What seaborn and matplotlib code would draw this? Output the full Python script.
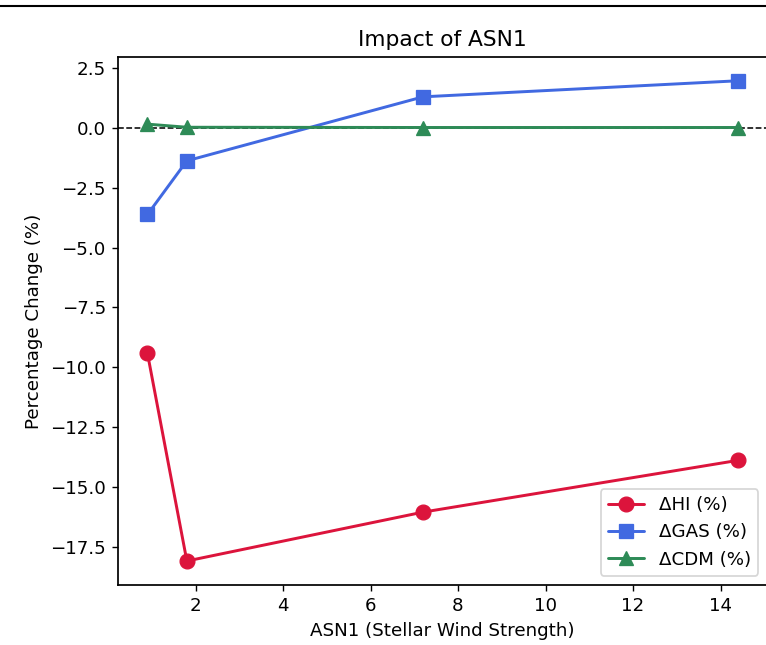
import matplotlib
matplotlib.use("Agg")
import matplotlib.pyplot as plt
import seaborn as sns
import pandas as pd
from matplotlib.lines import Line2D

asn1 = [0.9, 1.8, 7.2, 14.4]
d_hi = [-9.42, -18.08, -16.04, -13.88]
d_gas = [-3.62, -1.38, 1.29, 1.96]
d_cdm = [0.15, 0.02, 0.01, 0.01]

series = [
    ("ΔHI (%)", d_hi, "#DC143C", "o"),
    ("ΔGAS (%)", d_gas, "#4169E1", "s"),
    ("ΔCDM (%)", d_cdm, "#2E8B57", "^"),
]

sns.set_style("ticks")
plt.rcParams['font.family'] = ['DejaVu Sans']
plt.rcParams['text.color'] = 'black'
plt.rcParams['axes.labelcolor'] = 'black'
plt.rcParams['xtick.color'] = 'black'
plt.rcParams['ytick.color'] = 'black'

fig = plt.figure(figsize=(766 / 125, 645 / 125), dpi=125)
ax = fig.add_axes([0.154, 0.093, 0.848, 0.819])

for label, vals, color, marker in series:
    df = pd.DataFrame({"x": asn1, "y": vals})
    sns.lineplot(data=df, x="x", y="y", ax=ax, color=color, marker=marker,
                 markersize=8.5, markeredgecolor=color, linewidth=1.7, label=label)

ax.axhline(0, color="black", linestyle="--", linewidth=0.9, zorder=1)

ax.set_title("Impact of ASN1", fontsize=12.5)
ax.set_xlabel("ASN1 (Stellar Wind Strength)", fontsize=10.5)
ax.set_ylabel("Percentage Change (%)", fontsize=10.5)
ax.set_xticks([2, 4, 6, 8, 10, 12, 14])
ax.set_yticks([2.5, 0, -2.5, -5, -7.5, -10, -12.5, -15, -17.5])
ax.tick_params(labelsize=10.5, colors="black")
for s in ax.spines.values():
    s.set_color("black")
    s.set_linewidth(1.0)
ax.legend(loc="lower right", fontsize=10.5)

fig.add_artist(Line2D([0, 1], [1 - 6 / 645, 1 - 6 / 645], transform=fig.transFigure,
                      color="black", linewidth=1.2))

fig.savefig("out.png", dpi=125)
